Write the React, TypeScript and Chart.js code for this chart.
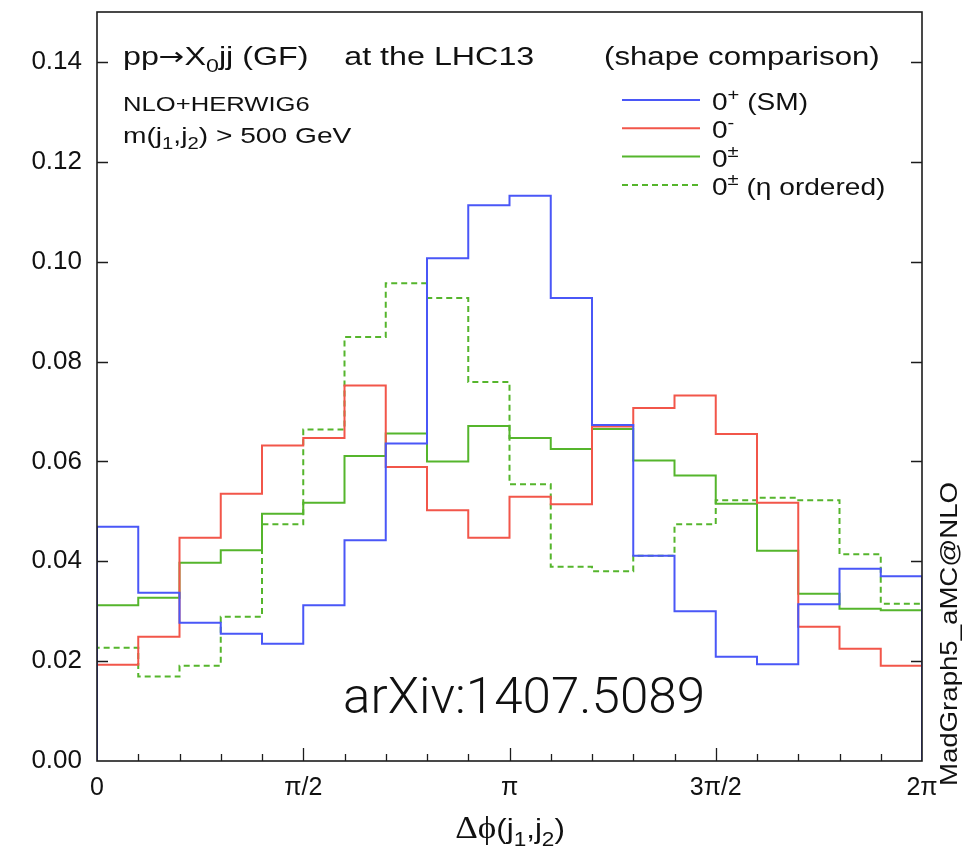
import { useEffect, useRef } from 'react';
import { Chart, registerables } from 'chart.js';

Chart.register(...registerables);

// Bin edges of Δφ(j1,j2), in units of π
const binEdgesPi = [0, 0.1, 0.2, 0.3, 0.4, 0.5, 0.6, 0.7, 0.8, 0.9, 1.0, 1.1, 1.2, 1.3, 1.4, 1.5, 1.6, 1.7, 1.8, 1.9, 2.0];

// Normalised histogram contents (one value per bin)
const zeroPlusSM = [0.0469, 0.0337, 0.0277, 0.0255, 0.0235, 0.0312, 0.0442, 0.0636, 0.1007, 0.1113, 0.1132, 0.0927, 0.0673, 0.0411, 0.0300, 0.0209, 0.0194, 0.0314, 0.0385, 0.0370];
const zeroMinus = [0.0193, 0.0249, 0.0447, 0.0535, 0.0632, 0.0647, 0.0752, 0.0589, 0.0502, 0.0447, 0.0529, 0.0514, 0.0670, 0.0707, 0.0732, 0.0655, 0.0517, 0.0269, 0.0225, 0.0191];
const zeroPlusMinus = [0.0312, 0.0327, 0.0397, 0.0422, 0.0495, 0.0517, 0.0611, 0.0656, 0.0600, 0.0671, 0.0647, 0.0625, 0.0665, 0.0602, 0.0572, 0.0515, 0.0421, 0.0335, 0.0305, 0.0302];
const zeroPlusMinusEta = [0.0227, 0.0169, 0.0191, 0.0289, 0.0474, 0.0664, 0.0849, 0.0957, 0.0927, 0.0759, 0.0554, 0.0389, 0.0380, 0.0411, 0.0474, 0.0522, 0.0527, 0.0522, 0.0414, 0.0315];

const yTickValues = [0, 0.02, 0.04, 0.06, 0.08, 0.10, 0.12, 0.14];
const xTickPi = [0, 0.5, 1, 1.5, 2];
const xTickLabels = ['0', 'π/2', 'π', '3π/2', '2π'];

const COLORS = { blue: '#4a57f7', red: '#f2564a', green: '#55b52c' };

type Part = { t: string; s?: 'sub' | 'sup'; fam?: string; k?: number };

function drawRich(
  ctx: CanvasRenderingContext2D,
  parts: Part[],
  x: number,
  y: number,
  size: number,
  family: string,
  sx: number,
  align: 'left' | 'center' = 'left'
) {
  const fontOf = (p: Part) => {
    const base = size * (p.k || 1);
    const sz = p.s ? base * 0.72 : base;
    return `${sz}px ${p.fam || family}`;
  };
  let total = 0;
  const widths = parts.map((p) => {
    ctx.font = fontOf(p);
    const w = ctx.measureText(p.t).width;
    total += w;
    return w;
  });
  ctx.save();
  const x0 = align === 'center' ? x - (total * sx) / 2 : x;
  ctx.translate(x0, y);
  ctx.scale(sx, 1);
  ctx.textBaseline = 'alphabetic';
  ctx.textAlign = 'left';
  let cx = 0;
  parts.forEach((p, i) => {
    ctx.font = fontOf(p);
    let dy = 0;
    if (p.s === 'sub') dy = size * 0.28;
    if (p.s === 'sup') dy = -size * 0.42;
    ctx.fillText(p.t, cx, dy);
    cx += widths[i];
  });
  ctx.restore();
}

function histPoints(values: number[]) {
  const pts: { x: number; y: number }[] = [{ x: 0, y: 0 }];
  values.forEach((v, i) => pts.push({ x: binEdgesPi[i] * Math.PI, y: v }));
  const last = binEdgesPi[binEdgesPi.length - 1] * Math.PI;
  pts.push({ x: last, y: values[values.length - 1] });
  pts.push({ x: last, y: 0 });
  return pts;
}

const SANS = "'Liberation Sans', Arial, sans-serif";

const decorPlugin = {
  id: 'decor',
  afterDraw(chart: any) {
    const { ctx, chartArea: a, scales } = chart;
    const xs = scales.x;
    const ys = scales.y;
    ctx.save();
    // frame
    ctx.strokeStyle = '#1c1c1c';
    ctx.lineWidth = 1.6;
    ctx.strokeRect(a.left, a.top, a.right - a.left, a.bottom - a.top);
    // inward ticks
    ctx.lineWidth = 1.3;
    ctx.beginPath();
    yTickValues.forEach((v) => {
      if (v === 0) return;
      const py = Math.round(ys.getPixelForValue(v)) + 0.5;
      ctx.moveTo(a.left, py);
      ctx.lineTo(a.left + 11, py);
      ctx.moveTo(a.right, py);
      ctx.lineTo(a.right - 11, py);
    });
    binEdgesPi.forEach((e) => {
      if (e === 0 || e === 2) return;
      const px = Math.round(xs.getPixelForValue(e * Math.PI)) + 0.5;
      const major = xTickPi.some((m) => Math.abs(m - e) < 1e-9);
      ctx.moveTo(px, a.bottom);
      ctx.lineTo(px, a.bottom - (major ? 13 : 7));
    });
    ctx.stroke();

    ctx.fillStyle = '#111';
    const SX = 1.2;
    // header texts
    drawRich(
      ctx,
      [{ t: 'pp' }, { t: '→', fam: "'DejaVu Sans', sans-serif", k: 0.95 }, { t: 'X' }, { t: '0', s: 'sub' }, { t: 'jj (GF)    at the LHC13' }],
      123,
      65,
      26,
      SANS,
      1.24
    );
    drawRich(ctx, [{ t: '(shape comparison)' }], 604, 65, 26, SANS, SX);
    drawRich(ctx, [{ t: 'NLO+HERWIG6' }], 123, 111, 21, SANS, 1.22);
    drawRich(
      ctx,
      [{ t: 'm(j' }, { t: '1', s: 'sub' }, { t: ',j' }, { t: '2', s: 'sub' }, { t: ') > 500 GeV' }],
      123,
      143,
      22,
      SANS,
      1.28
    );

    // legend
    const legendItems: { color: string; dash: number[]; label: Part[] }[] = [
      { color: COLORS.blue, dash: [], label: [{ t: '0' }, { t: '+', s: 'sup' }, { t: ' (SM)' }] },
      { color: COLORS.red, dash: [], label: [{ t: '0' }, { t: '-', s: 'sup' }] },
      { color: COLORS.green, dash: [], label: [{ t: '0' }, { t: '±', s: 'sup' }] },
      { color: COLORS.green, dash: [6, 4], label: [{ t: '0' }, { t: '±', s: 'sup' }, { t: ' (η ordered)' }] },
    ];
    legendItems.forEach((it, i) => {
      const ly = 100 + i * 28.3;
      ctx.save();
      ctx.strokeStyle = it.color;
      ctx.lineWidth = 2;
      ctx.setLineDash(it.dash);
      ctx.beginPath();
      ctx.moveTo(622, ly);
      ctx.lineTo(700, ly);
      ctx.stroke();
      ctx.restore();
      drawRich(ctx, it.label, 712, ly + 10, 24, SANS, 1.17);
    });

    // x-axis title
    drawRich(
      ctx,
      [
        { t: 'Δϕ', fam: "'Liberation Serif', 'DejaVu Serif', serif", k: 1.12 },
        { t: '(j' },
        { t: '1', s: 'sub' },
        { t: ',j' },
        { t: '2', s: 'sub' },
        { t: ')' },
      ],
      510,
      838,
      28,
      SANS,
      1.12,
      'center'
    );

    // rotated program label
    ctx.save();
    ctx.translate(957, 634);
    ctx.rotate(-Math.PI / 2);
    ctx.scale(1.15, 1);
    ctx.font = `24px ${SANS}`;
    ctx.textAlign = 'center';
    ctx.textBaseline = 'alphabetic';
    ctx.fillText('MadGraph5_aMC@NLO', 0, 0);
    ctx.restore();

    // arXiv stamp
    ctx.save();
    ctx.font = `300 50px Roboto, 'Liberation Sans', sans-serif`;
    ctx.textAlign = 'left';
    ctx.textBaseline = 'alphabetic';
    const txt = 'arXiv:1407.5089';
    const w = ctx.measureText(txt).width;
    ctx.translate(343, 713);
    ctx.scale(362 / w, 1);
    ctx.fillText(txt, 0, 0);
    ctx.restore();

    ctx.restore();
  },
};

export default function App() {
  const ref = useRef<HTMLCanvasElement | null>(null);
  useEffect(() => {
    if (!ref.current) return;
    const mk = (label: string, values: number[], color: string, dash: number[]) => ({
      label,
      data: histPoints(values),
      borderColor: color,
      backgroundColor: color,
      borderWidth: 2,
      borderDash: dash,
      stepped: 'before' as const,
      pointRadius: 0,
      fill: false,
      tension: 0,
    });
    const chart = new Chart(ref.current, {
      type: 'line',
      data: {
        datasets: [
          mk('0+ (SM)', zeroPlusSM, COLORS.blue, []),
          mk('0-', zeroMinus, COLORS.red, []),
          mk('0±', zeroPlusMinus, COLORS.green, []),
          mk('0± (η ordered)', zeroPlusMinusEta, COLORS.green, [6, 4]),
        ],
      },
      options: {
        animation: false,
        responsive: false,
        devicePixelRatio: 1,
        layout: { padding: { left: 0, right: 50, top: 12, bottom: 0 } },
        plugins: { legend: { display: false }, tooltip: { enabled: false }, title: { display: false } },
        scales: {
          x: {
            type: 'linear',
            min: 0,
            max: 2 * Math.PI,
            grid: { display: false, drawTicks: false },
            border: { display: false },
            afterBuildTicks: (scale: any) => {
              scale.ticks = xTickPi.map((v) => ({ value: v * Math.PI }));
            },
            afterFit: (scale: any) => {
              scale.height = 92;
              scale.paddingLeft = 0;
              scale.paddingRight = 0;
            },
            ticks: {
              autoSkip: false,
              maxRotation: 0,
              padding: 12,
              color: '#111',
              font: { family: SANS, size: 25 },
              callback: (_v: any, i: number) => xTickLabels[i],
            },
          },
          y: {
            type: 'linear',
            min: 0,
            max: 0.15,
            grid: { display: false, drawTicks: false },
            border: { display: false },
            afterBuildTicks: (scale: any) => {
              scale.ticks = yTickValues.map((v) => ({ value: v }));
            },
            afterFit: (scale: any) => {
              scale.width = 97;
              scale.paddingTop = 0;
              scale.paddingBottom = 0;
            },
            ticks: {
              autoSkip: false,
              padding: 15,
              color: '#111',
              font: { family: SANS, size: 26 },
              callback: (v: any) => Number(v).toFixed(2),
            },
          },
        },
      },
      plugins: [decorPlugin],
    });
    return () => chart.destroy();
  }, []);
  return (
    <div style={{ position: 'absolute', left: 0, top: 0, width: 972, height: 853, background: '#fff' }}>
      <canvas ref={ref} width={972} height={853} style={{ width: 972, height: 853, display: 'block' }} />
    </div>
  );
}
